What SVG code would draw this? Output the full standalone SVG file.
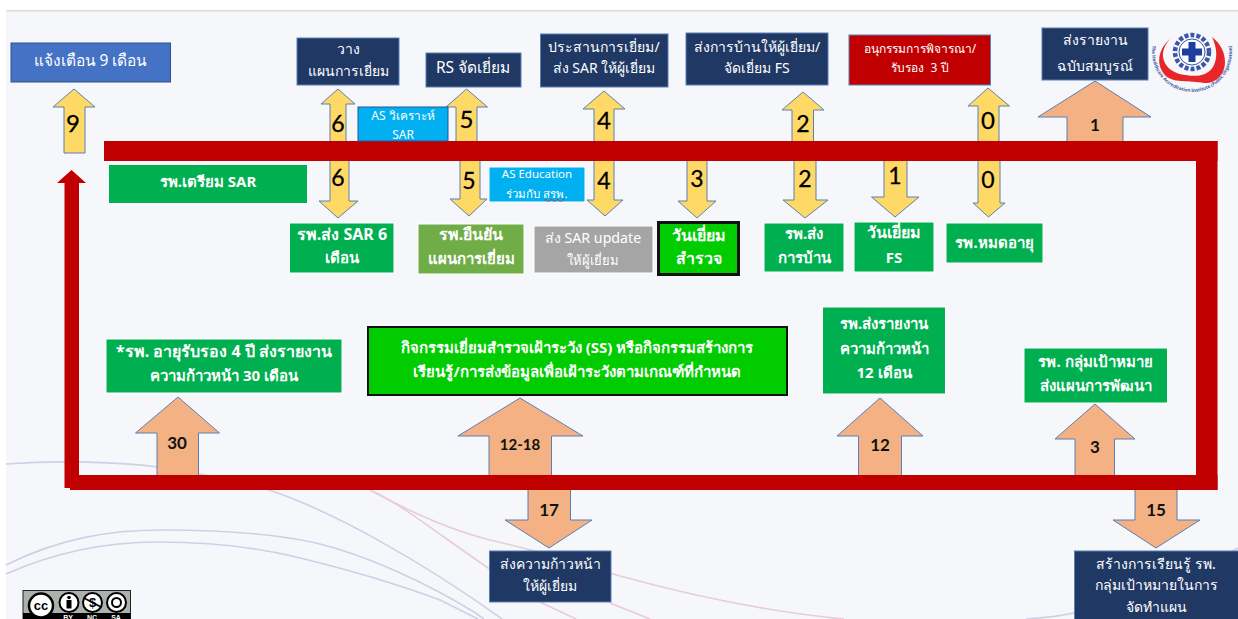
<svg xmlns="http://www.w3.org/2000/svg" width="1238" height="619" viewBox="0 0 1238 619">
<style>
text{font-family:"Noto Sans","DejaVu Sans",sans-serif;text-anchor:middle}
.t{fill:#fff;font-size:14px}
.w{fill:#fff;font-size:15.5px}
.b{fill:#fff;font-size:15px;font-weight:700}
.c{fill:#fff;font-size:16px;font-weight:700}
.s{fill:#fff;font-size:12px}
.navy{fill:#1f3864;stroke:#5b7fb5;stroke-width:1}
.green{fill:#00b050;stroke:#fff;stroke-width:1}
.ya{fill:#ffd966;stroke:#5b7fb5;stroke-width:1}
.oa{fill:#f4b183;stroke:#5b7fb5;stroke-width:1}
.n{font-family:Lato,"Liberation Sans",sans-serif;fill:#000;stroke:#000;stroke-width:.3;font-size:23px}
.m{font-family:Lato,"Liberation Sans",sans-serif;fill:#111;font-size:17px;font-weight:700}
.bg{fill:none;stroke:#cfcfe6;stroke-width:1.6}
.bp{fill:none;stroke:#e8ccd6;stroke-width:1.6}
</style>
<rect width="1238" height="619" fill="#fff"/>
<rect x="6" y="12" width="1232" height="607" fill="#f5f7fa"/>
<rect x="6" y="10" width="1232" height="1.5" fill="#d9d9d9"/>
<g id="background-curves">
<path class="bg" d="M6 464C60 460 120 462 158 467C200 473 235 480 269 490C330 510 420 560 502 619"/>
<path class="bg" d="M6 565C60 538 110 530 162 530C220 530 270 533 316 543C370 556 430 585 474 612L484 619"/>
<path class="bg" d="M6 574C60 550 110 542 158 542C210 542 255 547 296 557C350 570 400 585 440 600L478 619"/>
<path class="bp" d="M370 490C410 512 450 530 490 540C560 556 600 570 620 576C700 598 770 612 844 619"/>
<path class="bp" d="M374 492C410 508 470 560 542 603L576 619"/>
<path class="bp" d="M610 603L650 619"/>
<path class="bg" d="M1026 619C1040 618 1060 616 1074 613C1140 600 1200 570 1238 548"/>
</g>
<g id="connectors">
<polygon class="ya" points="74,89 95,107 85,107 85,153 64,153 64,107 53,107"/>
<polygon class="ya" points="338,89 355,104 346,104 346,142 330,142 330,104 321,104"/>
<polygon class="ya" points="466.500,89 487.500,107 477,107 477,142 456,142 456,107 446,107"/>
<polygon class="ya" points="604,91 625,109 614,109 614,142 594,142 594,109 583,109"/>
<polygon class="ya" points="803,92 824,110 813.500,110 813.500,142 792,142 792,110 782,110"/>
<polygon class="ya" points="988,88 1009.500,106 999,106 999,142 978,142 978,106 968,106"/>
<polygon class="oa" points="1095,81 1151,117 1123,117 1123,142 1067,142 1067,117 1038,117"/>
<polygon class="ya" points="330,160 349,160 349,201 358,201 338,218 319,201 330,201"/>
<polygon class="ya" points="460,160 480,160 480,199 487,199 469,216 450,199 460,199"/>
<polygon class="ya" points="594,160 614,160 614,200 623,200 605,216 587,200 594,200"/>
<polygon class="ya" points="687,160 707,160 707,201 716,201 697,218 678,201 687,201"/>
<polygon class="ya" points="794,160 816,160 816,200 828,200 805,218 783,200 794,200"/>
<polygon class="ya" points="884,160 907,160 907,197 919,197 895,217 871.500,197 884,197"/>
<polygon class="ya" points="978,160 1000,160 1000,203 1005,203 988.500,217 973,203 978,203"/>
<polygon class="oa" points="178,397 219.500,433 198.500,433 198.500,476 157,476 157,433 135.500,433"/>
<polygon class="oa" points="520,398 583,436 551.500,436 551.500,476 489,476 489,436 458,436"/>
<polygon class="oa" points="880,398 923,436 901.500,436 901.500,476 858.500,476 858.500,436 837,436"/>
<polygon class="oa" points="1095,404 1135,439 1114.500,439 1114.500,476 1075,476 1075,439 1055,439"/>
<polygon class="oa" points="528,489 570.500,489 570.500,520 592,520 549,548 505,520 528,520"/>
<polygon class="oa" points="1135,489 1177,489 1177,520 1200,520 1156,548 1113,520 1135,520"/>
<g id="red-frame" fill="#c00000">
<rect x="104" y="141" width="1113.500" height="20"/>
<rect x="1196" y="141" width="21.500" height="349"/>
<rect x="70" y="475" width="1147.500" height="15"/>
<polygon points="71.500,170 86,183 79,183 79,488 64.500,488 64.500,183 57,183"/>
</g>
<text class="n" x="73" y="132" style="font-size:24px">9</text>
<text class="n" x="338" y="132">6</text>
<text class="n" x="466.500" y="128" style="font-size:24px">5</text>
<text class="n" x="604" y="129" style="font-size:24px">4</text>
<text class="n" x="803" y="132">2</text>
<text class="n" x="988" y="129" style="font-size:24px">0</text>
<text class="m" x="1095" y="131">1</text>
<text class="n" x="338" y="186">6</text>
<text class="n" x="469" y="189">5</text>
<text class="n" x="604" y="189">4</text>
<text class="n" x="697" y="187">3</text>
<text class="n" x="805" y="187">2</text>
<text class="n" x="895" y="184">1</text>
<text class="n" x="988" y="188">0</text>
<text class="m" x="177" y="449">30</text>
<text class="m" x="520" y="450" style="font-size:15px">12-18</text>
<text class="m" x="880" y="451">12</text>
<text class="m" x="1095" y="453">3</text>
<text class="m" x="549" y="516">17</text>
<text class="m" x="1156" y="516">15</text>
</g>
<g id="n-alert"><rect x="11" y="43" width="159.500" height="39" fill="#4472c4" stroke="#2f528f"/><text class="w" x="90.500" y="66">แจ้งเตือน 9 เดือน</text></g>
<g id="n-plan"><rect class="navy" x="297" y="38" width="102" height="47"/><text class="t" x="348" y="54">วาง</text><text class="t" x="348" y="76">แผนการเยี่ยม</text></g>
<g id="n-rs"><rect class="navy" x="426" y="53" width="95" height="34"/><text class="w" x="473" y="73">RS จัดเยี่ยม</text></g>
<g id="n-coord"><rect class="navy" x="540.500" y="34" width="127.500" height="53"/><text class="t" x="604" y="52">ประสานการเยี่ยม/</text><text class="t" x="604" y="73">ส่ง SAR ให้ผู้เยี่ยม</text></g>
<g id="n-homework"><rect class="navy" x="686" y="33" width="142" height="52"/><text class="t" x="757" y="52">ส่งการบ้านให้ผู้เยี่ยม/</text><text class="t" x="757" y="73">จัดเยี่ยม FS</text></g>
<g id="n-committee"><rect x="849" y="35" width="141.500" height="50" fill="#c00000" stroke="#5b7fb5"/><text class="s" x="920" y="53">อนุกรรมการพิจารณา/</text><text class="s" x="920" y="72" xml:space="preserve">รับรอง  3 ปี</text></g>
<g id="n-full-report"><rect class="navy" x="1042" y="28" width="106" height="52"/><text class="t" x="1095" y="45">ส่งรายงาน</text><text class="t" x="1095" y="71">ฉบับสมบูรณ์</text></g>
<g id="n-prepare"><rect x="109" y="165" width="198" height="38" fill="#00b050"/><text class="b" x="208" y="187">รพ.เตรียม SAR</text></g>
<g id="n-as-sar"><rect x="358" y="107" width="90" height="34" fill="#00b0f0" stroke="#2f528f"/><text class="s" x="403" y="120">AS วิเคราะห์</text><text class="s" x="403" y="139">SAR</text></g>
<g id="n-as-edu"><rect x="489" y="167" width="96" height="35" fill="#00b0f0" stroke="#fff"/><text class="s" x="537" y="178" style="font-size:11.500px">AS Education</text><text class="s" x="537" y="198" style="font-size:11.500px">ร่วมกับ สรพ.</text><path d="M544 200.500q1.500-2 3 0t3 0 3 0 3 0 3 0 3 0 3 0" fill="none" stroke="#d03030" stroke-width=".8"/></g>
<g id="n-sar6"><rect class="green" x="289.500" y="223" width="104.500" height="50"/><text class="c" x="342" y="240">รพ.ส่ง SAR 6</text><text class="b" x="342" y="263">เดือน</text></g>
<g id="n-confirm"><rect x="418" y="224" width="106" height="50" fill="#70ad47" stroke="#fff"/><text class="c" x="471" y="240">รพ.ยืนยัน</text><text class="b" x="471" y="264">แผนการเยี่ยม</text></g>
<g id="n-update"><rect x="534" y="226" width="119" height="47" fill="#a5a5a5" stroke="#fff"/><text class="s" x="593" y="243" style="font-size:14.200px">ส่ง SAR update</text><text class="s" x="593" y="265" style="font-size:13px">ให้ผู้เยี่ยม</text></g>
<g id="n-survey-day"><rect x="658.500" y="222.500" width="80" height="52" fill="#00cc00" stroke="#111" stroke-width="3"/><text class="c" x="699" y="241">วันเยี่ยม</text><text class="c" x="699" y="264">สำรวจ</text></g>
<g id="n-send-homework"><rect class="green" x="764" y="223" width="80" height="49"/><text class="b" x="804" y="239">รพ.ส่ง</text><text class="b" x="804" y="263">การบ้าน</text></g>
<g id="n-fs-day"><rect class="green" x="854" y="222" width="80" height="50"/><text class="c" x="894" y="238">วันเยี่ยม</text><text class="b" x="894" y="263">FS</text></g>
<g id="n-expired"><rect class="green" x="946" y="223" width="97" height="40"/><text class="b" x="994.500" y="248">รพ.หมดอายุ</text></g>
<g id="n-30m"><rect class="green" x="106" y="339" width="236" height="54"/><text class="c" x="224" y="357">*รพ. อายุรับรอง 4 ปี ส่งรายงาน</text><text class="b" x="224" y="381">ความก้าวหน้า 30 เดือน</text></g>
<g id="n-ss"><rect x="368" y="327" width="419" height="68" fill="#00cc00" stroke="#111" stroke-width="2"/><text class="b" x="577" y="353">กิจกรรมเยี่ยมสำรวจเฝ้าระวัง (SS) หรือกิจกรรมสร้างการ</text><text class="b" x="577" y="377">เรียนรู้/การส่งข้อมูลเพื่อเฝ้าระวังตามเกณฑ์ที่กำหนด</text></g>
<g id="n-12m"><rect class="green" x="822.500" y="307" width="123" height="87"/><text class="b" x="884" y="329">รพ.ส่งรายงาน</text><text class="b" x="884" y="354">ความก้าวหน้า</text><text class="b" x="884" y="378">12 เดือน</text></g>
<g id="n-target"><rect class="green" x="1024" y="348" width="143.500" height="55"/><text class="b" x="1095.500" y="367">รพ. กลุ่มเป้าหมาย</text><text class="b" x="1095.500" y="391">ส่งแผนการพัฒนา</text></g>
<g id="n-progress"><rect class="navy" x="489.500" y="551" width="121.500" height="51"/><text class="t" x="550" y="569">ส่งความก้าวหน้า</text><text class="t" x="550" y="591">ให้ผู้เยี่ยม</text></g>
<g id="n-learning"><rect class="navy" x="1074.500" y="551" width="164" height="70"/><text class="t" x="1156" y="569">สร้างการเรียนรู้ รพ.</text><text class="t" x="1156" y="590">กลุ่มเป้าหมายในการ</text><text class="t" x="1156" y="612">จัดทำแผน</text></g>
<g id="logo">
<path d="M1174 36C1159 46 1155 62 1164 74C1172 84 1190 80 1204 83C1214 84 1225 76 1225 62C1225 52 1220 43 1212 37C1217 48 1218 58 1213 67C1207 76 1196 77 1186 75C1172 74 1162 65 1163 53C1164 46 1168 40 1174 36Z" fill="#e8262a"/>
<circle cx="1192" cy="52" r="17" fill="none" stroke="#3c56a6" stroke-width="4.500" stroke-dasharray="4 2"/>
<circle cx="1192" cy="52" r="13" fill="#fff" stroke="#3c56a6"/>
<path d="M1188.500 42h7v6.500h6.500v7h-6.500v6.500h-7v-6.500h-6.500v-7h6.500z" fill="#1f3f9c"/>
<path id="logo-arc" d="M1153 43A40 40 0 1 0 1231 43" fill="none"/>
<text font-size="4.600" font-weight="700" fill="#3c56a6"><textPath href="#logo-arc" startOffset="50%">The Healthcare Accreditation Institute (Public Organization)</textPath></text>
</g>
<g id="cc-badge">
<rect x="23" y="590.500" width="107.500" height="30" fill="#aab2ab" stroke="#222"/>
<rect x="23" y="613" width="107.500" height="6" fill="#000"/>
<circle cx="41" cy="605.500" r="12" fill="#fff" stroke="#000" stroke-width="2.500"/>
<text x="41" y="610" style="font-family:'Liberation Sans',sans-serif;font-size:13px;font-weight:700">cc</text>
<circle cx="69" cy="602.500" r="9.500" fill="#fff" stroke="#000" stroke-width="2"/>
<circle cx="69" cy="597.500" r="1.800"/><rect x="66.500" y="600" width="5" height="8.500"/>
<circle cx="92.500" cy="602.500" r="9.500" fill="#fff" stroke="#000" stroke-width="2"/>
<text x="92.500" y="607" style="font-family:'Liberation Sans',sans-serif;font-size:13px;font-weight:700">$</text>
<path d="M84 598l17 9" stroke="#000" stroke-width="1.500"/>
<circle cx="116.500" cy="602.500" r="9.500" fill="#fff" stroke="#000" stroke-width="2"/>
<circle cx="116.500" cy="602.500" r="4.500" fill="none" stroke="#000" stroke-width="2"/>
<text x="68" y="620" style="font-family:'Liberation Sans',sans-serif;font-size:7px;font-weight:700;fill:#fff">BY</text>
<text x="92" y="620" style="font-family:'Liberation Sans',sans-serif;font-size:7px;font-weight:700;fill:#fff">NC</text>
<text x="116" y="620" style="font-family:'Liberation Sans',sans-serif;font-size:7px;font-weight:700;fill:#fff">SA</text>
</g>
</svg>
